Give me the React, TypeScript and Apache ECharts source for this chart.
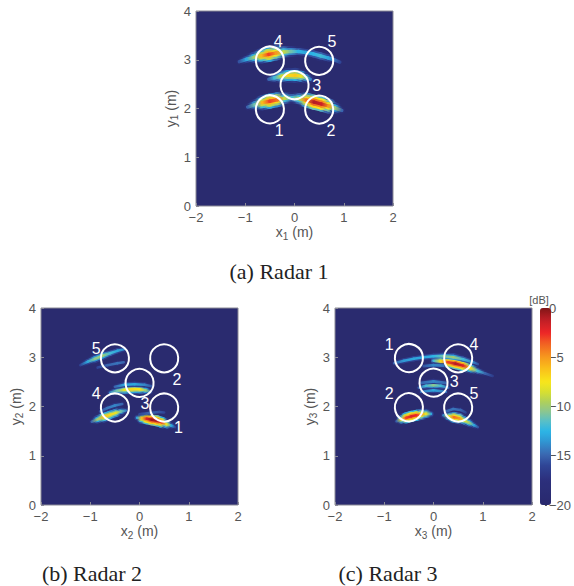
import React, { useEffect, useRef } from "react";
import * as echarts from "echarts";

// ---------- axes ----------
const X_MIN = -2;
const X_MAX = 2;
const Y_MIN = 0;
const Y_MAX = 4;
const TICK_STEP = 1;
const DB_MIN = -20;
const DB_MAX = 0;
const DB_STEP = 5;

// ---------- targets (circles, m) ----------
const TARGET_POSITIONS: number[][] = [
  [-0.5, 3], [0.5, 3], [0, 2.5], [-0.5, 2], [0.5, 2],
];
const TARGET_RADIUS = 0.285;

// ---------- target number labels [x, y, text] ----------
const RADAR1_LABELS: (number | string)[][] = [
  [-0.31, 1.55, "1"], [0.74, 1.55, "2"], [0.45, 2.48, "3"], [-0.33, 3.37, "4"], [0.76, 3.37, "5"],
];
const RADAR2_LABELS: (number | string)[][] = [
  [0.79, 1.57, "1"], [0.76, 2.55, "2"], [0.11, 2.06, "3"], [-0.88, 2.27, "4"], [-0.88, 3.18, "5"],
];
const RADAR3_LABELS: (number | string)[][] = [
  [-0.9, 3.26, "1"], [-0.9, 2.27, "2"], [0.42, 2.5, "3"], [0.82, 3.26, "4"], [0.82, 2.27, "5"],
];

// ---------- image ridges [x (m), y (m), level (dB)] ----------
const R1_ARC_TOP = [
  [-1.12, 2.96, -15.5], [-0.97, 3.01, -13], [-0.82, 3.05, -10], [-0.67, 3.08, -6], [-0.52, 3.11, -3],
  [-0.37, 3.14, -5], [-0.22, 3.16, -9], [-0.07, 3.17, -11], [0.08, 3.17, -12.5], [0.23, 3.15, -13],
  [0.38, 3.12, -12.5], [0.53, 3.08, -12], [0.68, 3.04, -13], [0.8, 3.0, -14.5], [0.92, 2.95, -16],
];
const R1_ARC_MID = [
  [-0.52, 2.6, -15], [-0.4, 2.63, -12], [-0.27, 2.66, -9], [-0.13, 2.68, -7], [0.02, 2.68, -6.5],
  [0.14, 2.66, -8], [0.24, 2.63, -11], [0.32, 2.6, -14],
];
const R1_ARC_LOW = [
  [-0.95, 2.03, -15], [-0.8, 2.08, -11], [-0.65, 2.12, -6], [-0.5, 2.15, -3], [-0.35, 2.18, -4],
  [-0.2, 2.21, -9], [-0.05, 2.22, -12], [0.1, 2.2, -9], [0.25, 2.17, -4], [0.4, 2.13, -1],
  [0.55, 2.09, -1.5], [0.7, 2.05, -5], [0.82, 2.01, -10], [0.96, 1.96, -15],
];

const R2_ARC_A = [
  [-1.2, 2.84, -16], [-1.05, 2.91, -13], [-0.9, 2.97, -10.5], [-0.75, 3.03, -10], [-0.6, 3.08, -12],
  [-0.45, 3.13, -13], [-0.32, 3.16, -14],
];
const R2_ARC_B = [[-0.85, 2.79, -16], [-0.65, 2.84, -15], [-0.45, 2.88, -14.5], [-0.32, 2.9, -15]];
const R2_ARC_C = [
  [-0.6, 2.28, -14], [-0.45, 2.32, -11], [-0.3, 2.34, -8], [-0.15, 2.35, -7], [0.0, 2.35, -7.5],
  [0.12, 2.33, -10], [0.22, 2.3, -14],
];
const R2_ARC_D = [[-0.5, 2.4, -15], [-0.3, 2.44, -13], [-0.1, 2.45, -13], [0.1, 2.44, -14], [0.25, 2.41, -15.5]];
const R2_ARC_E = [
  [-0.97, 1.69, -15], [-0.85, 1.74, -10], [-0.72, 1.79, -6], [-0.6, 1.83, -7], [-0.48, 1.87, -8],
  [-0.38, 1.9, -11], [-0.28, 1.92, -14],
];
const R2_ARC_F = [[-0.8, 1.9, -15.5], [-0.65, 1.97, -14.5], [-0.5, 2.02, -14], [-0.35, 2.05, -15]];
const R2_ARC_G = [
  [-0.05, 1.77, -13], [0.05, 1.76, -6], [0.15, 1.75, -2], [0.25, 1.73, -0.5], [0.35, 1.71, -1],
  [0.45, 1.68, -3], [0.55, 1.64, -8], [0.65, 1.61, -13], [0.72, 1.58, -16],
];
const R2_ARC_H = [[0.0, 1.84, -16], [0.2, 1.87, -15], [0.4, 1.89, -15.5], [0.5, 1.88, -16]];

const R3_ARC_A = [
  [-0.8, 2.88, -15], [-0.6, 2.93, -13.5], [-0.4, 2.97, -13], [-0.2, 3.0, -13], [0.0, 3.02, -12.5],
  [0.2, 3.02, -11], [0.4, 3.0, -10], [0.6, 2.96, -12], [0.8, 2.9, -14], [0.9, 2.86, -15.5],
];
const R3_ARC_B = [
  [0.0, 2.93, -12], [0.15, 2.92, -7], [0.3, 2.9, -3], [0.45, 2.87, -1], [0.6, 2.83, -2],
  [0.75, 2.78, -7], [0.9, 2.72, -12], [1.05, 2.67, -15], [1.2, 2.62, -16.5],
];
const R3_ARC_C = [[-0.2, 2.82, -15.5], [0.0, 2.84, -14], [0.2, 2.83, -14.5]];
const R3_ARC_D = [[-0.3, 2.38, -15], [-0.15, 2.42, -12], [0.0, 2.43, -10.5], [0.15, 2.42, -12], [0.3, 2.38, -15]];
const R3_ARC_E = [[-0.25, 2.48, -15], [0.0, 2.51, -14], [0.25, 2.48, -15]];
const R3_ARC_F = [[-0.25, 2.3, -14.5], [0.0, 2.33, -13], [0.25, 2.3, -14.5]];
const R3_ARC_G = [
  [-0.75, 1.7, -15], [-0.65, 1.74, -8], [-0.55, 1.77, -3], [-0.45, 1.8, -2], [-0.35, 1.82, -2.5],
  [-0.25, 1.84, -5], [-0.15, 1.85, -8], [-0.05, 1.85, -13],
];
const R3_ARC_H = [
  [0.2, 1.82, -14], [0.32, 1.8, -8], [0.42, 1.78, -4], [0.52, 1.76, -5], [0.62, 1.72, -8],
  [0.72, 1.67, -10], [0.82, 1.62, -13], [0.9, 1.58, -15.5],
];
const R3_ARC_I = [[0.25, 1.9, -15], [0.4, 1.95, -14.5], [0.55, 1.93, -15], [0.65, 1.88, -16]];

const PANEL_ARCS = [
  [R1_ARC_TOP, R1_ARC_MID, R1_ARC_LOW],
  [R2_ARC_A, R2_ARC_B, R2_ARC_C, R2_ARC_D, R2_ARC_E, R2_ARC_F, R2_ARC_G, R2_ARC_H],
  [R3_ARC_A, R3_ARC_B, R3_ARC_C, R3_ARC_D, R3_ARC_E, R3_ARC_F, R3_ARC_G, R3_ARC_H, R3_ARC_I],
];
const PANEL_LABELS = [RADAR1_LABELS, RADAR2_LABELS, RADAR3_LABELS];
const PANEL_SUBSCRIPTS = ["1", "2", "3"];
const CAPTIONS = ["(a) Radar 1", "(b) Radar 2", "(c) Radar 3"];

// ---------- styling ----------
const BG = "#2a2b6f";
const GRIDS = [
  { left: 196, top: 11, width: 197, height: 195 },
  { left: 41, top: 308, width: 197, height: 197 },
  { left: 335, top: 308, width: 197, height: 197 },
];
const BAND_SCALE = [1.15, 0.85, 0.85];
const CAPTION_POS = [[279, 271], [92, 573], [388, 573]];
const AXIS_TEXT = "#555";
const SANS = "Liberation Sans";

const CMAP_STOPS: [number, string][] = [
  [-20, "#29296d"], [-17.5, "#2c2f7c"], [-16, "#2f4596"], [-14.8, "#3b6ab3"], [-13.5, "#2f98d4"],
  [-12.5, "#2cb5e6"], [-11.5, "#58bfc8"], [-10.5, "#8cc68f"], [-9.5, "#b0d05a"], [-8.5, "#d8df30"],
  [-7.5, "#f8e61b"], [-6, "#f9bb1b"], [-4.8, "#f6921e"], [-3.5, "#f15b23"], [-2.5, "#ec2527"],
  [-1.2, "#c01f26"], [0, "#801517"],
];

function hex(h: string) {
  return [parseInt(h.slice(1, 3), 16), parseInt(h.slice(3, 5), 16), parseInt(h.slice(5, 7), 16)];
}

function cmap(v: number, fade: boolean): string {
  const c = Math.max(DB_MIN, Math.min(DB_MAX, v));
  let i = 0;
  while (i < CMAP_STOPS.length - 2 && c > CMAP_STOPS[i + 1][0]) i++;
  const [v0, h0] = CMAP_STOPS[i];
  const [v1, h1] = CMAP_STOPS[i + 1];
  const t = (c - v0) / (v1 - v0);
  const a = hex(h0);
  const b = hex(h1);
  const rgb = a.map((x, k) => Math.round(x + (b[k] - x) * t));
  const alpha = fade ? Math.max(0, Math.min(1, (v + 20) / 3.5)) : 1;
  return `rgba(${rgb[0]},${rgb[1]},${rgb[2]},${alpha})`;
}

const LAYERS = [
  { w: 13, d: -10, z2: 1 },
  { w: 9.5, d: -6, z2: 2 },
  { w: 6, d: -3, z2: 3 },
  { w: 3, d: 0, z2: 4 },
];

function makeArcRenderer(arc: number[][], scale: number) {
  return (params: any, api: any) => {
    const i = params.dataIndex;
    if (i >= arc.length - 1) return null;
    const p0 = api.coord([arc[i][0], arc[i][1]]);
    const p1 = api.coord([arc[i + 1][0], arc[i + 1][1]]);
    const children = LAYERS.map((L) => ({
      type: "line",
      z2: L.z2,
      shape: { x1: p0[0], y1: p0[1], x2: p1[0], y2: p1[1] },
      style: {
        stroke: new echarts.graphic.LinearGradient(
          p0[0], p0[1], p1[0], p1[1],
          [
            { offset: 0, color: cmap(arc[i][2] + L.d, L.d !== 0) },
            { offset: 1, color: cmap(arc[i + 1][2] + L.d, L.d !== 0) },
          ],
          true
        ),
        lineWidth: L.w * scale,
        lineCap: "round",
      },
    }));
    return { type: "group", children };
  };
}

const minusFmt = (v: number) => String(v).replace("-", "\u2212");

function buildOption() {
  const grid: any[] = GRIDS.map((g) => ({
    ...g,
    show: true,
    backgroundColor: BG,
    borderColor: "#8a8a96",
    borderWidth: 1,
  }));
  grid.push({ left: 540, top: 308, width: 11, height: 197, show: false });

  const nameRich = {
    b: { fontSize: 14, color: AXIS_TEXT, fontFamily: SANS },
    s: { fontSize: 10, color: AXIS_TEXT, fontFamily: SANS, padding: [8, 0, 0, 0] },
  };

  const xAxis: any[] = GRIDS.map((_, r) => ({
    gridIndex: r,
    type: "value",
    min: X_MIN,
    max: X_MAX,
    interval: TICK_STEP,
    name: `{b|x}{s|${PANEL_SUBSCRIPTS[r]}}{b| (m)}`,
    nameLocation: "middle",
    nameGap: 17,
    nameTextStyle: { rich: nameRich },
    axisLine: { show: false, onZero: false },
    axisTick: { show: true, inside: true, length: 3, lineStyle: { color: "#8a8a96" } },
    axisLabel: { color: AXIS_TEXT, fontSize: 13, fontFamily: SANS, margin: 5, formatter: minusFmt },
    splitLine: { show: false },
  }));
  xAxis.push({ gridIndex: 3, type: "value", show: false, min: 0, max: 1 });

  const yAxis: any[] = GRIDS.map((_, r) => ({
    gridIndex: r,
    type: "value",
    min: Y_MIN,
    max: Y_MAX,
    interval: TICK_STEP,
    name: `{b|y}{s|${PANEL_SUBSCRIPTS[r]}}{b| (m)}`,
    nameLocation: "middle",
    nameGap: 14,
    nameTextStyle: { rich: nameRich },
    axisLine: { show: false, onZero: false },
    axisTick: { show: true, inside: true, length: 3, lineStyle: { color: "#8a8a96" } },
    axisLabel: { color: AXIS_TEXT, fontSize: 13, fontFamily: SANS, margin: 5, formatter: minusFmt },
    splitLine: { show: false },
  }));
  yAxis.push({
    gridIndex: 3,
    type: "value",
    position: "right",
    min: DB_MIN,
    max: DB_MAX,
    interval: DB_STEP,
    axisLine: { show: false, onZero: false },
    axisTick: { show: true, inside: true, length: 2, lineStyle: { color: "#555" } },
    axisLabel: { color: AXIS_TEXT, fontSize: 13, fontFamily: SANS, margin: 2, formatter: minusFmt },
    splitLine: { show: false },
  });

  const series: any[] = [];
  const arcSeriesIdx: number[] = [];
  PANEL_ARCS.forEach((arcs, r) => {
    arcs.forEach((arc) => {
      arcSeriesIdx.push(series.length);
      series.push({
        type: "custom",
        coordinateSystem: "cartesian2d",
        xAxisIndex: r,
        yAxisIndex: r,
        data: arc,
        encode: { x: 0, y: 1 },
        clip: true,
        silent: true,
        renderItem: makeArcRenderer(arc, BAND_SCALE[r]),
      });
    });
  });
  PANEL_ARCS.forEach((_, r) => {
    series.push({
      type: "custom",
      coordinateSystem: "cartesian2d",
      xAxisIndex: r,
      yAxisIndex: r,
      data: TARGET_POSITIONS,
      encode: { x: 0, y: 1 },
      silent: true,
      z: 5,
      renderItem: (params: any, api: any) => {
        const c = api.coord([api.value(0), api.value(1)]);
        const rr = api.size([TARGET_RADIUS, 0])[0];
        return {
          type: "circle",
          shape: { cx: c[0], cy: c[1], r: rr },
          style: { fill: "none", stroke: "#ffffff", lineWidth: 2 },
        };
      },
    });
    const labels = PANEL_LABELS[r];
    series.push({
      type: "custom",
      coordinateSystem: "cartesian2d",
      xAxisIndex: r,
      yAxisIndex: r,
      data: labels.map((l) => [l[0], l[1]]),
      encode: { x: 0, y: 1 },
      silent: true,
      z: 6,
      renderItem: (params: any, api: any) => {
        const l = labels[params.dataIndex];
        const c = api.coord([l[0], l[1]]);
        return {
          type: "text",
          x: c[0],
          y: c[1],
          style: {
            text: String(l[2]),
            fill: "#ffffff",
            fontSize: 16,
            fontFamily: SANS,
            align: "center",
            verticalAlign: "middle",
          },
        };
      },
    });
  });

  const graphic: any[] = CAPTIONS.map((t, k) => ({
    type: "text",
    x: CAPTION_POS[k][0],
    y: CAPTION_POS[k][1],
    style: {
      text: t,
      fill: "#222",
      fontSize: 22,
      fontFamily: "Liberation Serif",
      align: "center",
      verticalAlign: "middle",
      textAlign: "center",
      textVerticalAlign: "middle",
    },
  }));
  graphic.push({
    type: "text",
    x: 539,
    y: 300,
    style: {
      text: "[dB]",
      fill: AXIS_TEXT,
      fontSize: 11,
      fontFamily: SANS,
      align: "center",
      verticalAlign: "middle",
      textAlign: "center",
      textVerticalAlign: "middle",
    },
  });

  const palette: string[] = [];
  for (let k = 0; k <= 40; k++) palette.push(cmap(DB_MIN + ((DB_MAX - DB_MIN) * k) / 40, false));

  return {
    animation: false,
    backgroundColor: "#ffffff",
    grid,
    xAxis,
    yAxis,
    visualMap: {
      type: "continuous",
      min: DB_MIN,
      max: DB_MAX,
      dimension: 2,
      seriesIndex: arcSeriesIdx,
      left: 540,
      top: 308,
      itemWidth: 11,
      itemHeight: 197,
      padding: 0,
      calculable: false,
      showLabel: false,
      text: null,
      inRange: { color: palette },
    },
    series,
    graphic,
  };
}

export default function App() {
  const ref = useRef<HTMLDivElement>(null);
  useEffect(() => {
    if (!ref.current) return;
    const chart = echarts.init(ref.current, undefined, { renderer: "svg" });
    chart.setOption(buildOption() as any);
    return () => chart.dispose();
  }, []);
  return (
    <div
      ref={ref}
      style={{ position: "absolute", left: 0, top: 0, width: 574, height: 586 }}
    />
  );
}
